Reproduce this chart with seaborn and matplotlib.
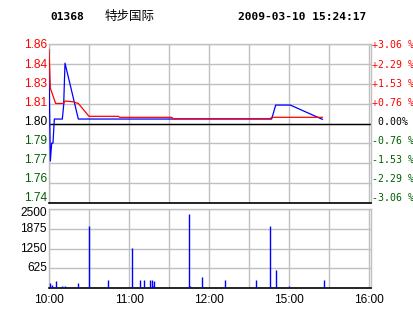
import matplotlib
matplotlib.use("Agg")
import matplotlib.pyplot as plt
from matplotlib.transforms import ScaledTranslation
import pandas as pd
import seaborn as sns

# ---------------- data ----------------
stock_code = "01368"
stock_name = "特步国际"
stamp = "2009-03-10 15:24:17"
prev_close = 1.80

# minutes since 10:00 on the compressed trading-time axis (lunch break removed)
price_min = [0, 1, 2, 3, 4, 10, 11, 12, 22, 167, 170, 181, 205]
price_val = [1.8386, 1.7741, 1.7865, 1.7865, 1.8032, 1.8032, 1.8129, 1.8420,
             1.8032, 1.8032, 1.8129, 1.8129, 1.8030]

avg_min = [0, 1, 2, 5, 11, 12, 18, 22, 30, 52, 53, 92, 93, 166, 167, 205]
avg_val = [1.8515, 1.8246, 1.8220, 1.8140, 1.8140, 1.8157, 1.8152, 1.8140,
           1.8051, 1.8051, 1.8044, 1.8044, 1.8035, 1.8035, 1.8044, 1.8044]

vol_min = [1, 2, 5, 10, 12, 22, 30, 44, 62, 68, 71, 76, 77, 78, 79, 105, 106,
           115, 132, 155, 166, 170, 180, 206]
vol_val = [158, 95, 220, 63, 63, 158, 1962, 253, 1275, 253, 253, 253, 253, 63,
           220, 2340, 63, 348, 253, 253, 1962, 570, 63, 253]

pct_ticks = [3.06, 2.29, 1.53, 0.76, 0.0, -0.76, -1.53, -2.29, -3.06]
left_labels = ["1.86", "1.84", "1.83", "1.81", "1.80", "1.79", "1.77", "1.76", "1.74"]
right_labels = ["+3.06 %", "+2.29 %", "+1.53 %", "+0.76 %", " 0.00%",
                "-0.76 %", "-1.53 %", "-2.29 %", "-3.06 %"]
vol_ticks = [625, 1250, 1875, 2500]
vol_labels = ["625", "1250", "1875", "2500"]
time_ticks = [0, 30, 60, 90, 120, 150, 180, 210, 240]
time_labels = ["10:00", "", "11:00", "", "12:00", "", "15:00", "", "16:00"]

# ---------------- style ----------------
RED = "#ff0000"
GREEN = "#005f00"
BLUE = "#0000ff"
GRID = "#c0c0c0"

W, H = 414, 314
fig = plt.figure(figsize=(W / 100, H / 100), dpi=100)
fig.patch.set_facecolor("white")

x0, x1 = 49, 371
ax = fig.add_axes([x0 / W, (H - 203) / H, (x1 - x0) / W, (203 - 44.3) / H])
axv = fig.add_axes([x0 / W, (H - 288) / H, (x1 - x0) / W, (288 - 209.3) / H])

xmax = (x1 - x0) * 0.75  # 4/3 px per minute

ylo = prev_close * (1 - 0.0306)
yhi = prev_close * (1 + 0.0306)
yt = [prev_close * (1 + p / 100) for p in pct_ticks]

label_font = ["Liberation Sans", "DejaVu Sans"]


def px_shift(dx, dy):
    # shift by pixels (dy positive = downwards)
    return ScaledTranslation(dx / 100, -dy / 100, fig.dpi_scale_trans)


for a in (ax, axv):
    a.set_xlim(0, xmax)
    a.set_xticks(time_ticks)
    a.grid(True, color=GRID, lw=1.0, zorder=0)
    a.set_axisbelow(True)
    for s in ("top", "left", "right"):
        a.spines[s].set_color(GRID)
        a.spines[s].set_linewidth(1.0)
    a.spines["bottom"].set_color("black")
    a.spines["bottom"].set_linewidth(1.2)
    a.tick_params(length=0)

# ---- price panel ----
ax.set_ylim(ylo, yhi)
ax.set_yticks(yt)
ax.set_yticklabels([])
ax.set_xticklabels([])

ax.axhline(prev_close, color="black", lw=1.0, zorder=2)

price_df = pd.DataFrame({"minute": price_min, "price": price_val})
avg_df = pd.DataFrame({"minute": avg_min, "price": avg_val})
sns.lineplot(data=price_df, x="minute", y="price", ax=ax, color=BLUE, lw=0.9,
             estimator=None, sort=False, zorder=3)
sns.lineplot(data=avg_df, x="minute", y="price", ax=ax, color=RED, lw=0.9,
             estimator=None, sort=False, zorder=4)
ax.set_xlabel("")
ax.set_ylabel("")

ytr = ax.get_yaxis_transform()
for i, (yv, p) in enumerate(zip(yt, pct_ticks)):
    col = RED if p > 0 else ("black" if p == 0 else GREEN)
    # labels in the reference sit on a slightly tighter spacing than the grid
    off = 1.2 - 0.78 * i
    ax.text(0, yv, left_labels[i], transform=ytr + px_shift(-2, off),
            ha="right", va="center", color=col, family=label_font,
            fontsize=8.6, clip_on=False)
    ax.text(1, yv, right_labels[i], transform=ytr + px_shift(1, off),
            ha="left", va="center", color=col, family="DejaVu Sans Mono",
            fontsize=7.1, clip_on=False)

# ---- volume panel ----
axv.set_ylim(0, 2500)
axv.set_yticks(vol_ticks)
axv.set_yticklabels([])
axv.set_xticklabels(time_labels, family=label_font, fontsize=8.6)
axv.tick_params(axis="x", pad=4.3)
axv.vlines(vol_min, 0, vol_val, color=BLUE, lw=1.0, zorder=3)

vtr = axv.get_yaxis_transform()
for v, lab in zip(vol_ticks, vol_labels):
    off = 4 if v == 2500 else 0
    axv.text(0, v, lab, transform=vtr + px_shift(-2, off), ha="right",
             va="center", color="black", family=label_font, fontsize=8.6,
             clip_on=False)

# ---- header ----
yh = 1 - 16.5 / H
fig.text(50 / W, yh, stock_code, family="DejaVu Sans Mono", weight="bold",
         fontsize=8.1, va="center", ha="left")
fig.text(105 / W, yh, stock_name, family=["Noto Sans CJK SC", "DejaVu Sans"],
         fontsize=9.0, va="center", ha="left")
fig.text(238 / W, yh, stamp, family="DejaVu Sans Mono", weight="bold",
         fontsize=8.1, va="center", ha="left")

fig.savefig("out.png", dpi=100)
